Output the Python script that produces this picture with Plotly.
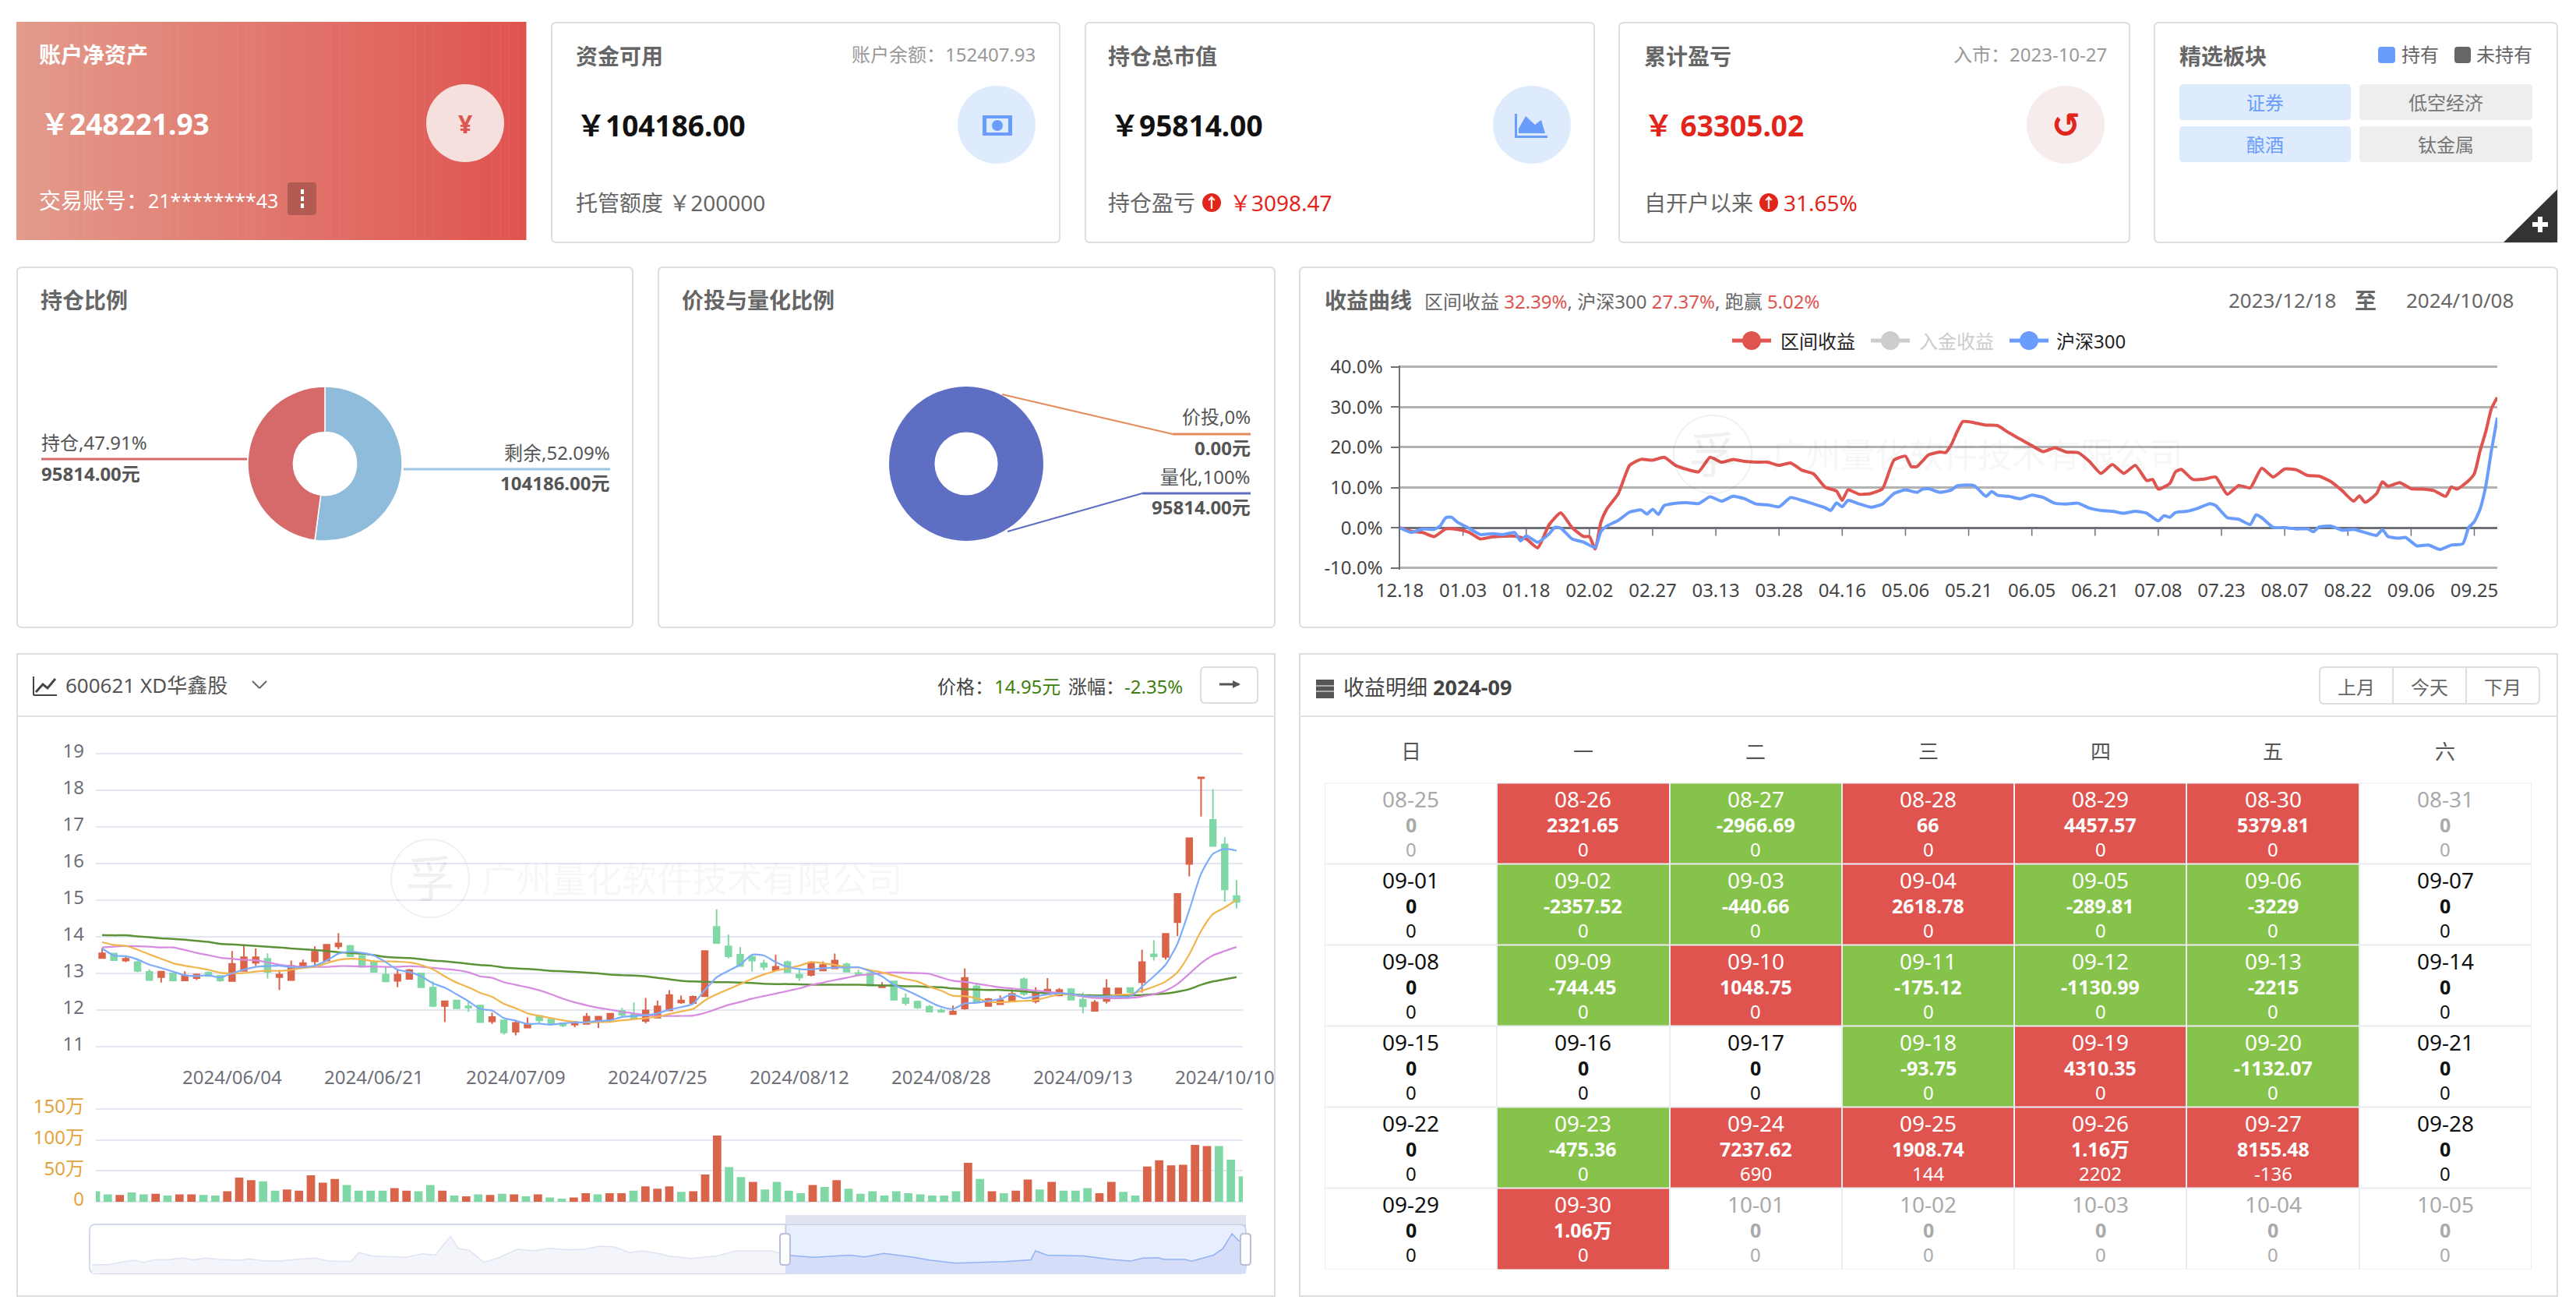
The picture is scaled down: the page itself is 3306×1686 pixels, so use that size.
import plotly.graph_objects as go

W = 3306
H = 1686
FONT = "Noto Sans, Noto Sans CJK SC, sans-serif"

# kline data
k_open = [13.42,13.54,13.35,13.31,13.04,12.90,13.00,12.81,12.87,13.02,
          12.93,12.79,13.07,13.29,13.40,12.90,12.82,13.16,13.33,13.35,
          13.74,13.75,13.48,13.30,12.97,12.80,12.85,13.00,12.61,12.11,
          12.26,12.10,12.12,11.69,11.72,11.41,11.52,11.84,11.74,11.64,
          11.60,11.62,11.69,11.74,11.98,11.87,11.70,11.79,11.99,12.21,
          12.19,12.38,14.27,13.74,13.51,13.45,13.27,13.09,13.31,12.97,
          12.96,13.08,13.14,13.25,13.01,13.01,12.62,12.78,12.32,12.23,
          12.09,11.99,11.89,12.04,12.65,12.11,12.16,12.24,12.84,12.24,
          12.43,12.40,12.57,12.28,11.98,12.25,12.43,12.60,12.76,13.52,
          13.45,14.40,15.99,18.33,17.19,16.52,15.11]
k_close = [13.55,13.36,13.40,13.07,12.82,13.05,12.81,12.94,12.97,12.93,
           12.81,13.26,13.44,13.44,13.04,12.97,13.21,13.28,13.59,13.78,
           13.82,13.47,13.18,13.04,12.78,12.97,13.09,12.62,12.11,12.24,
           12.05,12.07,11.67,11.81,11.39,11.65,11.62,11.72,11.62,11.58,
           11.67,11.82,11.82,11.90,11.87,11.76,11.99,12.10,12.41,12.26,
           12.36,13.61,13.83,13.47,13.20,13.35,13.18,13.18,13.03,12.89,
           13.28,13.23,13.35,13.05,12.97,12.67,12.67,12.28,12.19,12.07,
           11.96,11.95,11.96,12.88,12.21,12.30,12.27,12.44,12.44,12.45,
           12.56,12.55,12.28,12.10,12.21,12.59,12.59,12.49,13.31,13.47,
           14.08,15.17,16.69,18.35,16.48,15.29,14.95]
k_high = [13.69,13.56,13.47,13.35,13.11,13.05,13.01,13.06,13.00,13.06,
          12.95,13.61,13.78,13.68,13.55,13.09,13.35,13.38,13.74,13.80,
          14.10,13.78,13.52,13.37,13.18,13.09,13.12,13.01,12.78,12.24,
          12.27,12.22,12.15,11.93,11.74,11.70,11.80,11.86,11.78,11.65,
          11.70,11.92,11.82,11.92,12.06,12.21,12.33,12.26,12.54,12.40,
          12.40,13.61,14.75,14.06,13.72,13.51,13.37,13.51,13.35,13.10,
          13.33,13.33,13.54,13.29,13.10,13.03,12.76,12.80,12.45,12.26,
          12.14,12.05,12.12,13.14,12.72,12.33,12.40,12.57,12.89,12.62,
          12.87,12.60,12.60,12.48,12.27,12.84,12.59,12.62,13.65,13.91,
          14.09,15.17,16.69,18.35,18.03,16.72,15.55]
k_low = [13.42,13.34,13.31,13.03,12.81,12.75,12.80,12.81,12.82,12.92,
         12.77,12.79,13.07,13.21,12.86,12.55,12.82,13.16,13.23,13.35,
         13.66,13.47,13.18,13.04,12.78,12.63,12.84,12.62,12.08,11.67,
         12.03,11.95,11.67,11.62,11.33,11.31,11.52,11.63,11.60,11.53,
         11.53,11.62,11.51,11.73,11.78,11.75,11.64,11.79,11.99,12.17,
         12.19,12.36,13.83,13.41,13.20,13.05,13.09,13.09,13.03,12.80,
         12.92,13.08,13.14,13.05,12.92,12.66,12.62,12.27,12.13,12.03,
         11.94,11.94,11.89,12.01,12.19,12.11,12.15,12.22,12.39,12.18,
         12.43,12.39,12.26,11.91,11.98,12.18,12.43,12.43,12.48,13.35,
         13.38,14.02,15.65,17.28,16.48,14.96,14.77]
ma5 = [13.68,13.49,13.47,13.38,13.24,13.15,13.05,12.95,12.93,12.95,12.89,13.00,13.10,13.18,13.20,13.21,13.17,13.17,13.21,13.35,
       13.54,13.59,13.56,13.49,13.31,13.10,13.04,12.92,12.73,12.61,12.43,12.24,12.03,11.99,11.78,11.71,11.62,11.63,11.60,11.64,
       11.66,11.67,11.70,11.72,11.81,11.84,11.86,11.91,12.01,12.08,12.17,12.54,12.89,13.07,13.24,13.51,13.49,13.31,13.18,13.12,
       13.11,13.14,13.16,13.16,13.17,13.06,12.92,12.69,12.55,12.40,12.23,12.09,12.03,12.18,12.20,12.25,12.30,12.43,12.32,12.37,
       12.43,12.46,12.44,12.39,12.37,12.37,12.37,12.37,12.64,12.92,13.24,13.81,14.73,15.72,16.26,16.40,16.35]
ma10 = [13.85,13.78,13.75,13.65,13.52,13.40,13.28,13.21,13.16,13.10,13.02,13.00,13.01,13.05,13.07,13.07,13.10,13.15,13.18,13.28,
        13.37,13.40,13.38,13.33,13.33,13.32,13.30,13.23,13.11,12.92,12.75,12.62,12.47,12.36,12.17,12.05,11.91,11.84,11.78,11.72,
        11.67,11.66,11.67,11.68,11.72,11.75,11.78,11.82,11.89,11.96,12.03,12.26,12.43,12.57,12.71,12.85,12.97,13.07,13.14,13.21,
        13.31,13.28,13.23,13.17,13.16,13.09,13.03,12.94,12.85,12.78,12.64,12.53,12.39,12.38,12.32,12.23,12.21,12.23,12.25,12.27,
        12.35,12.43,12.43,12.39,12.37,12.37,12.42,12.43,12.53,12.64,12.78,13.03,13.52,14.16,14.62,14.80,15.01]
ma20 = [13.71,13.73,13.75,13.74,13.73,13.71,13.71,13.64,13.56,13.50,13.43,13.40,13.37,13.36,13.30,13.24,13.20,13.18,13.18,13.18,
        13.20,13.20,13.19,13.19,13.18,13.18,13.20,13.18,13.15,13.12,13.09,13.03,12.92,12.88,12.76,12.69,12.62,12.54,12.43,12.31,
        12.21,12.13,12.06,12.01,11.95,11.91,11.86,11.84,11.84,11.84,11.85,11.92,12.03,12.14,12.22,12.31,12.38,12.45,12.52,12.59,
        12.68,12.75,12.82,12.88,12.95,12.97,13.01,13.03,13.02,13.01,12.99,12.89,12.80,12.77,12.72,12.67,12.62,12.59,12.56,12.53,
        12.50,12.46,12.42,12.37,12.33,12.32,12.32,12.33,12.37,12.43,12.53,12.71,12.99,13.28,13.49,13.61,13.72]
ma60 = [14.05,14.04,14.04,14.01,13.99,13.96,13.94,13.92,13.89,13.86,13.81,13.79,13.77,13.75,13.73,13.71,13.68,13.66,13.64,13.61,
        13.58,13.56,13.54,13.50,13.45,13.43,13.42,13.39,13.35,13.33,13.30,13.26,13.23,13.21,13.16,13.14,13.12,13.10,13.07,13.06,
        13.04,13.02,13.00,12.97,12.95,12.94,12.92,12.88,12.84,12.80,12.78,12.77,12.76,12.76,12.75,12.74,12.72,12.71,12.71,12.70,
        12.69,12.69,12.69,12.69,12.69,12.68,12.67,12.67,12.65,12.65,12.63,12.62,12.59,12.57,12.56,12.55,12.55,12.53,12.51,12.48,
        12.46,12.45,12.43,12.41,12.40,12.40,12.40,12.40,12.41,12.43,12.45,12.50,12.57,12.69,12.78,12.84,12.90]
k_tick_idx = [11, 23, 35, 47, 59, 71, 83, 95]
k_tick_txt = ["2024/06/04", "2024/06/21", "2024/07/09", "2024/07/25", "2024/08/12", "2024/08/28", "2024/09/13", "2024/10/10"]

vol = [17,12,11,15,12,13,10,12,12,11,10,17,39,35,33,18,20,18,43,31,
       37,27,18,18,18,22,18,17,27,18,10,9,12,11,13,12,9,12,7,5,
       7,14,12,14,14,18,25,21,25,16,17,44,107,56,40,32,20,32,18,14,
       27,24,35,21,13,17,10,17,14,12,10,10,17,63,37,17,14,18,36,20,
       32,18,18,22,14,32,16,10,57,67,59,60,92,90,90,68,41]
vol_dir = "ggrggrgrrggrrrggrrrrrggggrrggrgrgrgrgrggrrgrrgrr" + "rgrrrggrggggrgr" + "gggggggggg" + "rgrgrrgrgggrrggrrrrrrggg"

slider_pos = [0.2,1.7,2.8,3.8,4.7,5.6,6.7,8,9,10,11.2,13.1,13.8,14.9,16.4,17.8,19.5,20.7,22.6,23.3,
              24.4,25.9,27.3,28.8,29.9,31.2,31.9,32.8,34.1,35.4,37,38.3,39.8,41.4,42.9,44.1,45.4,46.7,47.8,49.5,
              50,52,54.3,55.9,59,60.2,62.6,65.8,67,68.7,71.3,72.7,74.9,79.2,81.4,81.8,82.8,86,88.3,90,
              91.1,92.4,92.9,94.7,95.3,97.2,98,98.8,99.4,100]
slider_val = [20,21,27,31,26,32,32,36,32,36,33,31,34,30,29,33,36,29,28,49,
              41,39,38,46,43,87,58,55,26,37,57,53,59,55,57,64,62,49,53,45,
              41,35,41,53,53,43,38,43,39,47,38,31,24,28,32,53,43,41,33,29,
              36,37,33,33,29,43,58,93,76,76]

# return curves
ret_ticks = ["12.18","01.03","01.18","02.02","02.27","03.13","03.28","04.16","05.06","05.21","06.05","06.21","07.08","07.23","08.07","08.22","09.06","09.25"]
ret_tick_idx = [0,11,22,33,44,55,66,77,88,99,110,121,132,143,154,165,176,187]
red_idx = [0,2,4,6,8,10,12,14,16,18,20,22,24,26,28,30,32,33,34,35,36,38,40,42,44,46,48,50,52,54,56,58,60,62,64,66,68,70,72,74,76,77,78,80,82,84,86,88,89,90,92,94,
           95,96,97,98,100,102,104,106,108,110,112,114,116,118,120,122,124,126,128,130,131,132,134,135,136,138,140,142,144,146,148,150,152,154,156,158,160,162,164,166,167,168,170,171,172,174,176,178,180,182,183,184,186,187,188,189,190,191]
red_val = [0,-0.9,-1.2,-2.2,-0.3,-0.4,-1.1,-2.8,-2.3,-2.1,-2.1,-2.8,-5.0,0.8,3.7,0,-2.2,-2.2,-5.3,1.4,4.6,8.4,15.5,17.0,16.8,17.5,15.5,14.5,13.9,17.5,16.3,17.0,16.5,16.3,16.3,15.5,16.1,14.3,13.4,10.1,9.1,6.8,9.4,8.3,8.5,9.7,16.8,17.8,15.2,15.2,18.1,18.8,
           18.7,20.7,23.9,26.4,26.1,25.5,25.4,23.6,22.0,20.4,18.9,19.9,18.8,18.7,16.5,13.5,15.7,13.5,15.5,11.7,12,9.6,11,13.9,14.5,12,12.1,12.6,8.3,10.5,9.9,14.8,12.6,14.6,14.4,13,12.8,11.5,9.2,6.6,7.9,6.3,8.5,11.4,10.3,11.2,9.7,9.6,9.2,7.8,10.1,9.6,11.7,13.4,19.1,23.9,29.7,32.39]
blue_idx = [0,2,4,6,7,8,9,10,12,14,16,18,20,21,22,24,26,27,28,30,32,34,35,36,38,40,42,43,44,45,46,48,50,52,54,56,58,60,62,64,66,68,70,72,74,75,76,77,78,80,82,84,86,88,90,91,92,94,
            96,97,98,100,102,103,104,106,108,110,112,114,116,118,120,122,124,126,128,130,132,133,134,135,137,139,141,142,144,146,148,149,150,152,154,156,158,159,160,162,164,166,168,170,171,172,174,175,177,179,181,183,185,186,187,188,189,190,191]
blue_val = [0,-1.2,-0.3,-0.4,0.4,2.5,2.6,1.4,-0.1,-1.7,-1.5,-1.7,-1.2,-3.3,-2,-3.6,-1.5,0.1,-0.1,-2.8,-3.6,-4.9,-0.9,0.4,1.8,3.9,4.4,3.4,4.6,3.3,5.5,6.1,6.2,6,7.7,6.6,7.8,7.2,5.9,5.7,5.2,7.5,6.8,5.9,5,4.3,6.2,5.2,6.8,5.9,5.1,5.9,8.5,9.4,8.8,9.6,9.7,8.8,
            9.4,10.4,10.6,10.4,7.8,9,8.1,7.8,7.2,8.1,7.5,6.1,5.9,6.1,4.9,4.3,4.1,3.6,4.1,3.6,1.7,3,2.6,3.8,4.1,4.9,6,5.5,2.5,2.1,0.8,3.2,2.5,0.1,0,-0.3,-0.3,-1,0.2,0.4,-0.6,-0.4,-1.2,-1.9,-0.5,-2.2,-2.6,-2.4,-4.5,-4.3,-5.4,-4.3,-4,0,1.5,4.6,10.4,19.4,27.37]

# donuts
pie1_labels = ["剩余", "持仓"]
pie1_vals = [104186.00, 95814.00]
pie2_labels = ["量化", "价投"]
pie2_vals = [95814.00, 0.00]

# calendar
week_names = ["日", "一", "二", "三", "四", "五", "六"]
cal_days = [["08-25","08-26","08-27","08-28","08-29","08-30","08-31"],
            ["09-01","09-02","09-03","09-04","09-05","09-06","09-07"],
            ["09-08","09-09","09-10","09-11","09-12","09-13","09-14"],
            ["09-15","09-16","09-17","09-18","09-19","09-20","09-21"],
            ["09-22","09-23","09-24","09-25","09-26","09-27","09-28"],
            ["09-29","09-30","10-01","10-02","10-03","10-04","10-05"]]
cal_pnl = [["0","2321.65","-2966.69","66","4457.57","5379.81","0"],
           ["0","-2357.52","-440.66","2618.78","-289.81","-3229","0"],
           ["0","-744.45","1048.75","-175.12","-1130.99","-2215","0"],
           ["0","0","0","-93.75","4310.35","-1132.07","0"],
           ["0","-475.36","7237.62","1908.74","1.16万","8155.48","0"],
           ["0","1.06万","0","0","0","0","0"]]
cal_extra = [["0","0","0","0","0","0","0"],
             ["0","0","0","0","0","0","0"],
             ["0","0","0","0","0","0","0"],
             ["0","0","0","0","0","0","0"],
             ["0","0","690","144","2202","-136","0"],
             ["0","0","0","0","0","0","0"]]

RED = "#e0544f"
GREEN = "#86c34a"
BLUE = "#6a9dfb"
TXT_RED = "#e1251b"
UP = "#da6449"
DOWN = "#7fd8a6"
GRID = "#e3e7f2"


def px(x):
    return x / W


def py(y):
    return 1 - y / H


shapes = []
annos = []


def rect(x0, y0, x1, y1, fill=None, line=None, lw=2, layer="below"):
    shapes.append(dict(type="rect", xref="paper", yref="paper", x0=px(x0), x1=px(x1), y0=py(y0), y1=py(y1),
                       fillcolor=fill, line=dict(color=line, width=lw if line else 0), layer=layer))


def rrect(x0, y0, x1, y1, r=6, fill=None, line=None, lw=2, layer="below"):
    p = (f"M {px(x0+r)} {py(y0)} L {px(x1-r)} {py(y0)} Q {px(x1)} {py(y0)} {px(x1)} {py(y0+r)} "
         f"L {px(x1)} {py(y1-r)} Q {px(x1)} {py(y1)} {px(x1-r)} {py(y1)} "
         f"L {px(x0+r)} {py(y1)} Q {px(x0)} {py(y1)} {px(x0)} {py(y1-r)} "
         f"L {px(x0)} {py(y0+r)} Q {px(x0)} {py(y0)} {px(x0+r)} {py(y0)} Z")
    shapes.append(dict(type="path", xref="paper", yref="paper", path=p, fillcolor=fill,
                       line=dict(color=line, width=lw if line else 0), layer=layer))


def circle(cx, cy, r, fill, ry=None, line=None, layer="below"):
    ry = ry or r
    shapes.append(dict(type="circle", xref="paper", yref="paper", x0=px(cx-r), x1=px(cx+r), y0=py(cy-ry), y1=py(cy+ry),
                       fillcolor=fill, line=dict(color=line, width=2 if line else 0), layer=layer))


def hline(x0, x1, y, color, lw=2, y2=None):
    shapes.append(dict(type="line", xref="paper", yref="paper", x0=px(x0), x1=px(x1), y0=py(y), y1=py(y if y2 is None else y2),
                       line=dict(color=color, width=lw), layer="above"))


def txt(x, y, s, size=28, color="#666666", anchor="left", family=None):
    f = dict(size=size, color=color)
    if family:
        f["family"] = family
    annos.append(dict(xref="paper", yref="paper", x=px(x), y=py(y), text=s, showarrow=False, font=f,
                      xanchor=anchor, yanchor="middle", align=anchor, borderpad=0, borderwidth=0))


def up_badge(cx, cy):
    circle(cx, cy, 12, TXT_RED)
    txt(cx, cy, "<b>↑</b>", 18, "white", "center")


# card backgrounds, row 1
for i in range(60):
    t = i / 59
    c = "rgb(%d,%d,%d)" % (227 - 3 * t, 155 - 71 * t, 140 - 60 * t)
    rect(21 + 654 * i / 60, 28, 21 + 654 * (i + 1) / 60 + 0.5, 308, fill=c)
for x0, x1 in [(708, 1360), (1393, 2046), (2078, 2733), (2765, 3282)]:
    rrect(x0, 29, x1, 311, fill="white", line="#dedede")
# row 2 and 3
for x0, x1 in [(22, 812), (845, 1636), (1668, 3282)]:
    rrect(x0, 343, x1, 805, fill="white", line="#dedede")
for x0, x1 in [(22, 1636), (1668, 3282)]:
    rect(x0, 839, x1, 1663, fill="white", line="#dedede")
    hline(x0, x1, 919, "#e2e2e2", 2)

# card 1
txt(50, 70, "<b>账户净资产</b>", 28, "white")
txt(52, 158, "<b>￥248221.93</b>", 37, "white")
circle(597, 158, 50, "#f6e0de")
txt(597, 158, "<b>¥</b>", 32, RED, "center")
txt(50, 257, "交易账号：", 28, "white")
txt(190, 257, "21********43", 25, "white")
rrect(369, 234, 406, 276, r=4, fill="#b35a52")
for yy in (243, 252, 261):
    rect(386, yy, 390, yy + 6, fill="white")

# card 2
txt(739, 72, "<b>资金可用</b>", 28)
txt(1329, 70, "账户余额：152407.93", 24, "#999999", "right")
txt(740, 160, "<b>￥104186.00</b>", 37, "#111111")
circle(1279, 160, 50, "#deebfd")
rect(1261, 148, 1299, 174, fill=BLUE)
rect(1266, 152, 1294, 170, fill="#deebfd")
circle(1280, 161, 7, BLUE)
txt(739, 260, "托管额度 ￥200000", 28)

# card 3
txt(1422, 72, "<b>持仓总市值</b>", 28)
txt(1425, 160, "<b>￥95814.00</b>", 37, "#111111")
circle(1966, 160, 50, "#deebfd")
rect(1944, 146, 1947, 177, fill=BLUE)
rect(1944, 174, 1986, 177, fill=BLUE)
area_pts = [(1949, 171), (1949, 165), (1958, 149), (1970, 160), (1978, 154), (1983, 171)]
shapes.append(dict(type="path", xref="paper", yref="paper", layer="below", fillcolor=BLUE, line=dict(width=0),
                   path="M " + " L ".join(f"{px(a)} {py(b)}" for a, b in area_pts) + " Z"))
txt(1422, 260, "持仓盈亏", 28)
up_badge(1555, 260)
txt(1578, 260, "￥3098.47", 28, TXT_RED)

# card 4
txt(2110, 72, "<b>累计盈亏</b>", 28)
txt(2704, 70, "入市：2023-10-27", 24, "#999999", "right")
txt(2110, 160, "<b>￥ 63305.02</b>", 37, TXT_RED)
circle(2651, 160, 50, "#f7ecec")
txt(2651, 160, "<b>↺</b>", 44, TXT_RED, "center", "DejaVu Sans")
txt(2110, 260, "自开户以来", 28)
up_badge(2270, 260)
txt(2289, 260, "31.65%", 28, TXT_RED)

# card 5
txt(2797, 72, "<b>精选板块</b>", 28)
rrect(3052, 60, 3074, 81, r=4, fill=BLUE)
txt(3082, 70, "持有", 24)
rrect(3150, 60, 3171, 81, r=4, fill="#666666")
txt(3178, 70, "未持有", 24)
sector_names = [["证券", "低空经济"], ["酿酒", "钛金属"]]
for r, (y0, y1) in enumerate([(108, 154), (162, 208)]):
    rrect(2797, y0, 3017, y1, r=5, fill="#deebfd")
    rrect(3028, y0, 3250, y1, r=5, fill="#eeeeee")
    txt(2907, (y0 + y1) / 2, sector_names[r][0], 24, BLUE, "center")
    txt(3139, (y0 + y1) / 2, sector_names[r][1], 24, "#777777", "center")
shapes.append(dict(type="path", xref="paper", yref="paper", layer="above", fillcolor="#333333", line=dict(width=0),
                   path=f"M {px(3282)} {py(243)} L {px(3282)} {py(311)} L {px(3213)} {py(311)} Z"))
rect(3257, 278, 3263, 298, fill="white", layer="above")
rect(3250, 285, 3270, 291, fill="white", layer="above")

# row 2 titles
txt(52, 385, "<b>持仓比例</b>", 28)
txt(875, 385, "<b>价投与量化比例</b>", 28)
txt(1700, 385, "<b>收益曲线</b>", 28)
txt(1828, 387, "区间收益 <span style='color:#e0544f'>32.39%</span>, 沪深300 <span style='color:#e0544f'>27.37%</span>, 跑赢 <span style='color:#e0544f'>5.02%</span>", 24)
txt(2860, 385, "2023/12/18", 26)
txt(3036, 385, "<b>至</b>", 28, "#666666", "center")
txt(3088, 385, "2024/10/08", 26)

# donut leaders
txt(53, 567, "持仓,47.91%", 24, "#555555")
hline(53, 317, 589, "#d66a6a", 3)
txt(53, 607, "<b>95814.00元</b>", 24, "#555555")
txt(783, 580, "剩余,52.09%", 24, "#555555", "right")
hline(518, 783, 602, "#9cc6e3", 3)
txt(783, 620, "<b>104186.00元</b>", 24, "#555555", "right")
txt(1605, 534, "价投,0%", 24, "#555555", "right")
hline(1286, 1505, 506, "#e58a5a", 2, 557)
hline(1505, 1605, 557, "#e58a5a", 3)
txt(1605, 574, "<b>0.00元</b>", 24, "#555555", "right")
txt(1605, 611, "量化,100%", 24, "#555555", "right")
hline(1293, 1466, 682, "#5e6ec3", 2, 633)
hline(1466, 1605, 633, "#5e6ec3", 3)
txt(1605, 651, "<b>95814.00元</b>", 24, "#555555", "right")

# returns legend
for cx, c, x_t, name, tc in [(2248, RED, 2285, "区间收益", "#222222"), (2426, "#cccccc", 2463, "入金收益", "#cccccc"), (2604, BLUE, 2639, "沪深300", "#222222")]:
    hline(cx - 25, cx + 25, 437, c, 5)
    circle(cx, 437, 12, c, layer="above")
    txt(x_t, 437, name, 24, tc)

# watermarks
for cx, cy, x_t, sz in [(2198, 583, 2274, 44), (552, 1127, 618, 45)]:
    circle(cx, cy, 50, None, line="rgba(0,0,0,0.06)", layer="above")
    txt(cx, cy, "孚", 62, "rgba(0,0,0,0.06)", "center")
    txt(x_t, cy, "广州量化软件技术有限公司", sz, "rgba(0,0,0,0.055)")

# kline panel header
pts = [(46, 888), (55, 878), (61, 883), (71, 871)]
shapes.append(dict(type="path", xref="paper", yref="paper", layer="above", line=dict(color="#444444", width=3),
                   path="M " + " L ".join(f"{px(a)} {py(b)}" for a, b in pts)))
hline(43, 73, 892, "#444444", 2)
hline(43, 43, 868, "#444444", 2, 892)
txt(84, 879, "600621 XD华鑫股", 26, "#555555")
hline(324, 333, 874, "#666666", 2, 883)
hline(333, 342, 883, "#666666", 2, 874)
txt(1203, 880, "价格：", 24, "#444444")
txt(1276, 880, "14.95元", 24, "#3f7f0f")
txt(1371, 880, "涨幅：", 24, "#444444")
txt(1443, 880, "-2.35%", 24, "#3f7f0f")
rrect(1541, 856, 1614, 902, r=6, fill="white", line="#dddddd")
hline(1565, 1590, 878, "#555555", 3)
shapes.append(dict(type="path", xref="paper", yref="paper", layer="above", fillcolor="#555555", line=dict(width=0),
                   path=f"M {px(1582)} {py(873)} L {px(1592)} {py(878)} L {px(1582)} {py(883)} Z"))

# slider decoration
rrect(115, 1571, 1599, 1634, r=8, line="#d2dbee", lw=2)
rect(1008, 1559, 1599, 1571, fill="#e0e4f0")
for x_h in (1001, 1592):
    rrect(x_h, 1583, x_h + 13, 1623, r=4, fill="white", line="#b8c0d8", layer="above")

# calendar header
rect(1689, 872, 1712, 896, fill="#555555")
for yy in (880, 887):
    hline(1689, 1712, yy, "white", 1)
txt(1724, 881, "收益明细 <b>2024-09</b>", 27, "#444444")
rrect(2977, 856, 3259, 903, r=6, fill="white", line="#dddddd")
hline(3071, 3071, 856, "#dddddd", 2, 903)
hline(3165, 3165, 856, "#dddddd", 2, 903)
for cx, s in [(3024, "上月"), (3118, "今天"), (3212, "下月")]:
    txt(cx, 881, s, 24, "#666666", "center")

TABLE_L, TABLE_R, TABLE_T, TABLE_B = 1700, 3249, 1004.5, 1629
col_w = (TABLE_R - TABLE_L) / 7
for i, n in enumerate(week_names):
    txt(TABLE_L + col_w * (i + 0.5), 964, n, 26, "#555555", "center")
rect(TABLE_L, TABLE_T, TABLE_R, TABLE_B, fill="#eaecf2")

# calendar text + heat values
cal_z = []
for r, row in enumerate(cal_pnl):
    z_row = []
    for c, v in enumerate(row):
        z = 0 if v == "0" else (-1 if v.startswith("-") else 1)
        z_row.append(z)
        muted = not cal_days[r][c].startswith("09")
        col = "white" if z else ("#aaaaaa" if muted else "#111111")
        for s, size, shift in [(cal_days[r][c], 28, 32), ("<b>" + v + "</b>", 25, -1.5), (cal_extra[r][c], 24, -33)]:
            annos.append(dict(xref="x5", yref="y5", x=c, y=r, yshift=shift, text=s, showarrow=False,
                              font=dict(size=size, color=col), xanchor="center", yanchor="middle"))
    cal_z.append(z_row)

fig = go.Figure()

idx = list(range(len(k_open)))
fig.add_trace(go.Candlestick(x=idx, open=k_open, high=k_high, low=k_low, close=k_close, xaxis="x", yaxis="y",
                             increasing=dict(line=dict(color=UP, width=2), fillcolor=UP),
                             decreasing=dict(line=dict(color=DOWN, width=2), fillcolor=DOWN),
                             whiskerwidth=0, showlegend=False))
for vals, c, w in [(ma60, "#5d9236", 2.5), (ma20, "#d68be0", 2.2), (ma10, "#f2b54e", 2.2), (ma5, "#7eacfa", 2.2)]:
    fig.add_trace(go.Scatter(x=idx, y=vals, mode="lines", xaxis="x", yaxis="y", showlegend=False,
                             line=dict(color=c, width=w, shape="spline", smoothing=0.6)))

fig.add_trace(go.Bar(x=idx, y=vol, xaxis="x2", yaxis="y2", showlegend=False, width=0.7, cliponaxis=False,
                     marker=dict(color=[UP if d == "r" else DOWN for d in vol_dir], line=dict(width=0))))

cut = slider_pos.index(60.2)
fig.add_trace(go.Scatter(x=slider_pos[:cut + 1], y=slider_val[:cut + 1], mode="lines", xaxis="x3", yaxis="y3", showlegend=False,
                         line=dict(color="#dfe4f3", width=1.5), fill="tozeroy", fillcolor="#f3f5fb"))
fig.add_trace(go.Scatter(x=slider_pos[cut:], y=slider_val[cut:], mode="lines", xaxis="x3", yaxis="y3", showlegend=False,
                         line=dict(color="#92b2f5", width=1.5), fill="tozeroy", fillcolor="#d5ddf8"))
shapes.append(dict(type="rect", xref="x3", yref="y3", x0=slider_pos[cut], x1=100, y0=0, y1=115,
                   fillcolor="rgba(135,175,250,0.2)", line=dict(color="#c3cde6", width=2), layer="below"))

fig.add_trace(go.Scatter(x=red_idx, y=red_val, mode="lines", xaxis="x4", yaxis="y4", showlegend=False,
                         line=dict(color=RED, width=4, shape="spline", smoothing=0.5)))
fig.add_trace(go.Scatter(x=blue_idx, y=blue_val, mode="lines", xaxis="x4", yaxis="y4", showlegend=False,
                         line=dict(color=BLUE, width=4, shape="spline", smoothing=0.5)))
for t in ret_tick_idx[1:]:
    shapes.append(dict(type="line", xref="x4", yref="y4", x0=t, x1=t, y0=0, y1=-2, line=dict(color="#6e7079", width=1.5), layer="below"))

fig.add_trace(go.Pie(labels=pie1_labels, values=pie1_vals, hole=0.41, sort=False, direction="clockwise", rotation=0,
                     textinfo="none", showlegend=False, marker=dict(colors=["#8fbcdb", "#d66a6a"], line=dict(color="white", width=1.5)),
                     domain=dict(x=[px(417 - 99), px(417 + 99)], y=[py(694), py(496)])))
fig.add_trace(go.Pie(labels=pie2_labels, values=pie2_vals, hole=0.41, sort=False, direction="clockwise", rotation=0,
                     textinfo="none", showlegend=False, marker=dict(colors=["#5e6ec3", "#e58a5a"], line=dict(width=0)),
                     domain=dict(x=[px(1240 - 99), px(1240 + 99)], y=[py(694), py(496)])))

fig.add_trace(go.Heatmap(z=cal_z, x=list(range(7)), y=list(range(6)), xaxis="x5", yaxis="y5", showscale=False, hoverinfo="skip",
                         colorscale=[[0, GREEN], [0.5, "white"], [1, RED]], zmin=-1, zmax=1, xgap=2, ygap=2))

kl_dom = [px(123), px(1595)]
off = dict(showgrid=False, zeroline=False, showticklabels=False, ticks="", showline=False)
# ranges run a little past the end ticks, plotly drops gridlines sitting on the plot edge
fig.update_layout(
    width=W, height=H, autosize=False,
    margin=dict(l=0, r=0, t=0, b=0),
    paper_bgcolor="white", plot_bgcolor="rgba(0,0,0,0)",
    font=dict(family=FONT, color="#555555"),
    bargap=0.3,
    shapes=shapes, annotations=annos,
    xaxis=dict(domain=kl_dom, range=[-0.53, 96.53], anchor="y", rangeslider=dict(visible=False), showgrid=False, zeroline=False,
               tickmode="array", tickvals=k_tick_idx, ticktext=k_tick_txt, ticks="", ticklabelstandoff=21,
               tickfont=dict(size=24, color="#6e7079")),
    yaxis=dict(domain=[py(1345.35), py(964.65)], range=[10.95, 19.05], anchor="x", tickmode="array", tickvals=list(range(11, 20)),
               gridcolor=GRID, gridwidth=2, zeroline=False, ticks="", ticklabelstandoff=14, ticklabelshift=-3,
               tickfont=dict(size=24, color="#6e7079")),
    xaxis2=dict(domain=kl_dom, range=[0, 96], anchor="y2", **off),
    yaxis2=dict(domain=[py(1544.4), py(1420.6)], range=[-3, 153], anchor="x2", tickmode="array", tickvals=[0, 50, 100, 150],
                ticktext=["0", "50万", "100万", "150万"], gridcolor=GRID, gridwidth=2, zeroline=False, ticks="", ticklabelstandoff=14,
                ticklabelshift=-3, tickfont=dict(size=24, color="#e6a23c")),
    xaxis3=dict(domain=[px(115), px(1599)], range=[0, 100], anchor="y3", **off),
    yaxis3=dict(domain=[py(1634), py(1571)], range=[0, 115], anchor="x3", **off),
    xaxis4=dict(domain=[px(1796.5), px(3205)], range=[0, 191], anchor="y4", showgrid=False, zeroline=False, tickmode="array",
                tickvals=ret_tick_idx, ticktext=ret_ticks, ticks="", ticklabelstandoff=10, tickfont=dict(size=24, color="#444444")),
    yaxis4=dict(domain=[py(730.8), py(468.6)], range=[-10.4, 40.4], anchor="x4", tickmode="array", tickvals=[-10, 0, 10, 20, 30, 40],
                ticktext=["-10.0%", "0.0%", "10.0%", "20.0%", "30.0%", "40.0%"], gridcolor="#b2b2b2", gridwidth=2.5,
                zeroline=True, zerolinecolor="#6e7079", zerolinewidth=3, showline=True, linecolor="#6e7079", linewidth=2,
                ticks="outside", ticklen=10, tickcolor="#6e7079", tickwidth=2, ticklabelstandoff=5,
                tickfont=dict(size=24, color="#444444")),
    xaxis5=dict(domain=[px(TABLE_L), px(TABLE_R)], range=[-0.5, 6.5], anchor="y5", **off),
    yaxis5=dict(domain=[py(TABLE_B), py(TABLE_T)], range=[5.5, -0.5], anchor="x5", **off),
)
fig.update_xaxes(automargin=False)
fig.update_yaxes(automargin=False)

fig.write_html("out.html", config={"displayModeBar": False},
               post_script="document.body.style.margin='0';document.body.style.overflow='hidden';")
